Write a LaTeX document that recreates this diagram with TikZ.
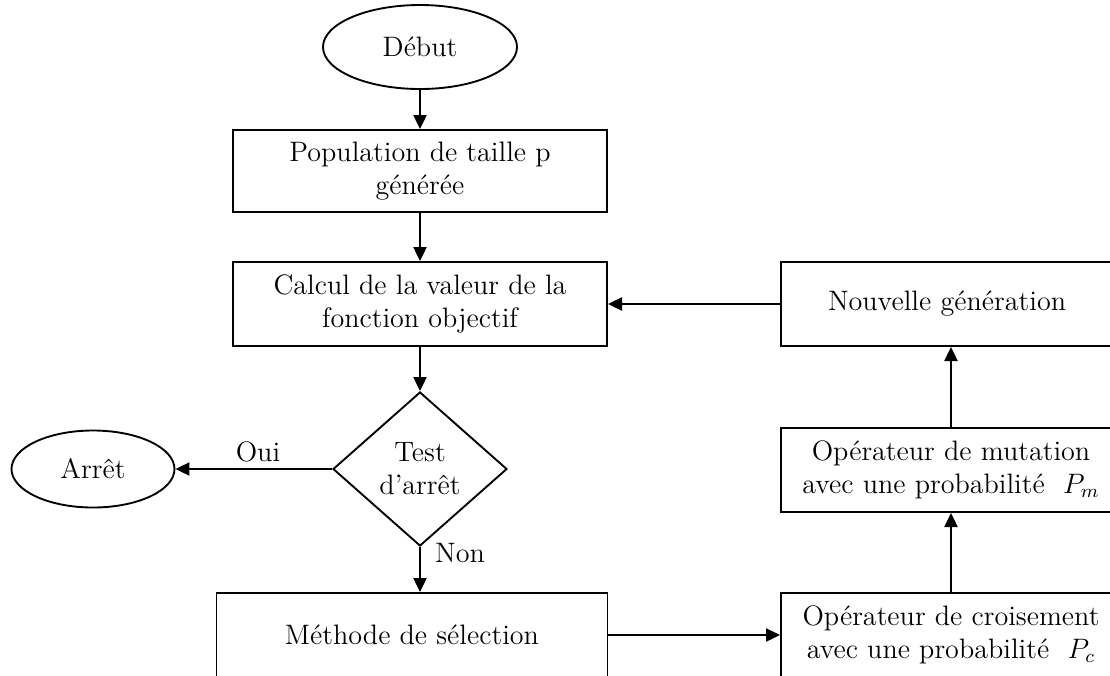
\documentclass[tikz,border=0pt]{standalone}
\usetikzlibrary{arrows.meta,shapes.geometric}
\newcommand{\pxu}{0.015cm}
\begin{document}
\begin{tikzpicture}[x=0.015cm,y=-0.015cm,
    every node/.style={font=\fontsize{12}{14.1}\selectfont,align=center},
    box/.style={draw,line width=0.8pt,inner sep=0pt},
    flow/.style={line width=0.8pt,-{Triangle[length=6pt,width=5.6pt]}}]
    \useasboundingbox (0,0) rectangle (1110,675);

    % Main column
    \node[box,ellipse,minimum width=194*\pxu,minimum height=84*\pxu] (debut) at (420,47) {Début};
    \node[box,minimum width=374*\pxu,minimum height=82*\pxu] (pop) at (420,171) {Population de taille p\\générée};
    \node[box,minimum width=374*\pxu,minimum height=84*\pxu] (calc) at (420,304) {Calcul de la valeur de la\\fonction objectif};
    \node[box,diamond,minimum width=174*\pxu,minimum height=154*\pxu] (test) at (420,469) {Test\\d’arrêt};
    \node[box,ellipse,minimum width=163*\pxu,minimum height=77*\pxu] (arret) at (93,469) {Arrêt};
    \node[box,minimum width=391*\pxu,minimum height=84*\pxu] (select) at (412,635) {Méthode de sélection};

    % Right column
    \node[box,minimum width=340*\pxu,minimum height=84*\pxu] (crois) at (951,635) {Opérateur de croisement\\avec une probabilité ~$P_c$};
    \node[box,minimum width=340*\pxu,minimum height=84*\pxu] (mut) at (951,470) {Opérateur de mutation\\avec une probabilité ~$P_m$};
    \node[box,text width=246*\pxu,inner xsep=47*\pxu,align=left,minimum height=84*\pxu] (nouv) at (951,304) {Nouvelle génération};

    % Labels
    \node (oui) at (258,452) {Oui};
    \node (non) at (460,553) {Non};

    % Connectors
    \draw[flow] (debut) -- (pop);
    \draw[flow] (pop) -- (calc);
    \draw[flow] (calc) -- (test);
    \draw[flow] (test) -- (arret);
    \draw[flow] (test.south) -- (test.south |- select.north);
    \draw[flow] (select) -- (crois);
    \draw[flow] (crois) -- (mut);
    \draw[flow] (mut) -- (nouv);
    \draw[flow] (nouv) -- (calc);
\end{tikzpicture}
\end{document}
